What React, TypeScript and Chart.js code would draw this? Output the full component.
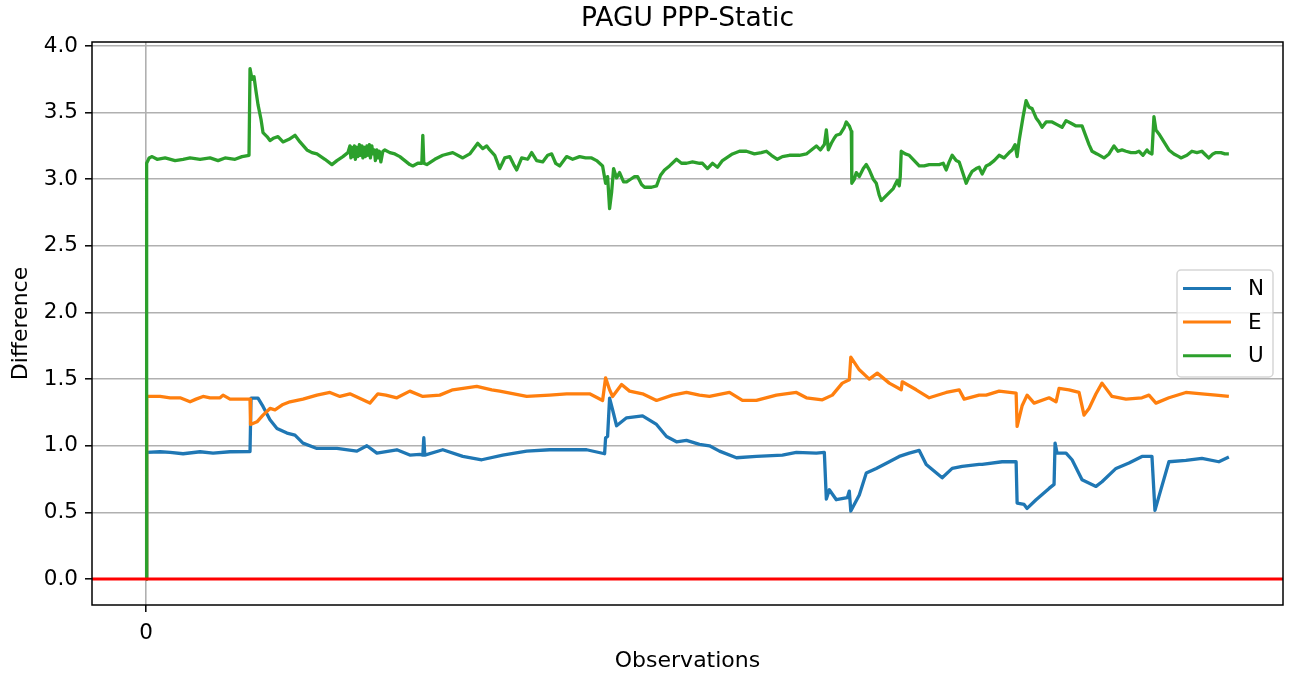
import React, { useEffect, useRef } from 'react';
import { Chart, registerables } from 'chart.js';

Chart.register(...registerables);

const TITLE = 'PAGU PPP-Static';
const X_LABEL = 'Observations';
const Y_LABEL = 'Difference';
const SERIES_LABELS = ['N', 'E', 'U'];
const X_TICKS = [0];
const Y_TICKS = [0, 0.5, 1, 1.5, 2, 2.5, 3, 3.5, 4];
const Y_MIN = -0.195;
const Y_MAX = 4.03;

const obsN = [0, 0.5, 14, 24, 37, 54, 67, 84, 104, 105, 112, 117, 124, 131, 141, 149, 157, 171, 191, 211, 221, 231, 251, 264, 274, 277, 278, 279, 297, 317, 336, 357, 381, 404, 441, 459, 460, 462, 464, 467, 471, 481, 497, 511, 521, 531, 541, 554, 564, 574, 591, 611, 637, 651, 671, 679, 681, 684, 691, 702, 704, 705.5, 714, 721, 731, 744, 754, 764, 774, 781, 797, 807, 817, 834, 837, 857, 871, 872, 879, 882, 891, 904, 909, 910, 912, 921, 927, 937, 951, 957, 971, 984, 997, 1007, 1010, 1014, 1024, 1041, 1057, 1074, 1084];
const diffN = [0, 0.95, 0.955, 0.95, 0.94, 0.955, 0.945, 0.955, 0.957, 1.357, 1.357, 1.295, 1.195, 1.13, 1.095, 1.08, 1.02, 0.98, 0.98, 0.96, 1.0, 0.945, 0.97, 0.93, 0.935, 0.93, 1.06, 0.93, 0.97, 0.92, 0.895, 0.93, 0.96, 0.97, 0.97, 0.94, 1.06, 1.07, 1.357, 1.27, 1.15, 1.21, 1.225, 1.16, 1.07, 1.03, 1.04, 1.01, 1.0, 0.96, 0.91, 0.92, 0.93, 0.95, 0.945, 0.95, 0.6, 0.67, 0.595, 0.61, 0.66, 0.51, 0.63, 0.795, 0.83, 0.88, 0.92, 0.945, 0.965, 0.86, 0.76, 0.83, 0.845, 0.86, 0.86, 0.88, 0.88, 0.57, 0.56, 0.53, 0.595, 0.68, 0.71, 1.02, 0.945, 0.945, 0.895, 0.745, 0.695, 0.73, 0.83, 0.87, 0.92, 0.92, 0.515, 0.62, 0.88, 0.89, 0.905, 0.88, 0.915];

const obsE = [0, 0.5, 4, 14, 24, 34, 44, 50, 57, 64, 74, 77, 84, 94, 104, 104.5, 111, 117, 124, 129, 137, 144, 157, 171, 184, 194, 204, 224, 232, 240, 251, 264, 277, 294, 307, 331, 346, 354, 381, 404, 421, 444, 457, 460, 464, 467, 476, 484, 497, 511, 527, 541, 554, 564, 584, 597, 611, 631, 651, 661, 677, 687, 697, 704, 705.5, 714, 724, 732, 744, 756, 757, 771, 784, 801, 814, 819, 834, 841, 854, 871, 872, 877, 882, 889, 904, 911, 914, 924, 934, 939, 944, 951, 957, 967, 981, 997, 1004, 1011, 1024, 1041, 1057, 1071, 1084];
const diffE = [0, 1.37, 1.37, 1.37, 1.36, 1.36, 1.33, 1.35, 1.37, 1.36, 1.36, 1.38, 1.35, 1.35, 1.35, 1.16, 1.18, 1.23, 1.28, 1.27, 1.31, 1.33, 1.35, 1.38, 1.4, 1.37, 1.39, 1.32, 1.39, 1.38, 1.36, 1.41, 1.37, 1.38, 1.42, 1.445, 1.42, 1.41, 1.37, 1.38, 1.39, 1.39, 1.34, 1.51, 1.42, 1.37, 1.46, 1.41, 1.39, 1.34, 1.38, 1.4, 1.38, 1.37, 1.4, 1.34, 1.34, 1.38, 1.4, 1.36, 1.345, 1.38, 1.47, 1.495, 1.665, 1.57, 1.5, 1.545, 1.47, 1.42, 1.48, 1.42, 1.36, 1.4, 1.42, 1.35, 1.38, 1.38, 1.41, 1.395, 1.145, 1.3, 1.38, 1.32, 1.36, 1.33, 1.43, 1.42, 1.4, 1.23, 1.28, 1.39, 1.47, 1.37, 1.35, 1.36, 1.38, 1.32, 1.36, 1.4, 1.39, 1.38, 1.37];

const obsU = [0, 0.5, 3, 6, 11, 19, 29, 37, 44, 54, 64, 72, 79, 89, 96, 103, 104, 106, 108, 110, 112, 115, 117, 121, 124, 128, 132, 137, 143, 149, 154, 161, 166, 171, 179, 186, 191, 197, 202, 204, 205, 206, 207, 208.5, 209.5, 211, 212, 213.5, 214.5, 216, 217, 218.5, 219.5, 221, 222, 223.5, 224.5, 226, 227, 228.5, 229.5, 231, 232, 233.5, 235, 237, 239, 244, 249, 254, 259, 264, 267, 272, 276, 277, 278, 281, 289, 297, 307, 317, 324, 332, 337, 341, 344, 349, 354, 359, 364, 368, 371, 376, 382, 386, 391, 397, 402, 406, 410, 414, 421, 427, 434, 440, 446, 451, 457, 460, 462, 464, 466, 468, 471, 474, 478, 481, 485, 489, 492, 496, 499, 506, 511, 515, 519, 524, 531, 536, 541, 547, 554, 557, 562, 567, 572, 577, 587, 594, 601, 609, 616, 621, 626, 632, 637, 644, 654, 661, 666, 671, 675, 679, 681, 683, 686, 689, 691, 695, 699, 701, 704, 706, 706.5, 709, 711, 714, 718, 721, 724, 728, 731, 734, 736, 740, 744, 748, 752, 754, 755, 756, 760, 764, 769, 774, 779, 784, 789, 794, 798, 801, 804, 807, 811, 814, 818, 821, 824, 827, 831, 834, 837, 841, 844, 849, 854, 859, 864, 867, 870, 872, 874, 878, 881, 884, 887, 891, 894, 897, 901, 907, 912, 917, 921, 926, 931, 937, 941, 944, 947, 952, 959, 964, 969, 973, 977, 981, 986, 991, 994, 998, 1002, 1004, 1007, 1009, 1011, 1014, 1019, 1024, 1029, 1034, 1036, 1042, 1047, 1052, 1057, 1061, 1064, 1068, 1071, 1076, 1080, 1084];
const diffU = [0, 3.12, 3.16, 3.17, 3.15, 3.16, 3.14, 3.15, 3.16, 3.15, 3.16, 3.14, 3.16, 3.15, 3.17, 3.18, 3.83, 3.75, 3.77, 3.66, 3.56, 3.45, 3.35, 3.32, 3.29, 3.31, 3.32, 3.28, 3.3, 3.33, 3.28, 3.22, 3.2, 3.19, 3.15, 3.11, 3.14, 3.17, 3.2, 3.25, 3.16, 3.24, 3.17, 3.25, 3.15, 3.24, 3.17, 3.26, 3.18, 3.25, 3.16, 3.24, 3.17, 3.25, 3.18, 3.26, 3.16, 3.25, 3.19, 3.22, 3.14, 3.22, 3.16, 3.21, 3.13, 3.21, 3.22, 3.2, 3.19, 3.17, 3.14, 3.11, 3.1, 3.12, 3.12, 3.33, 3.12, 3.11, 3.15, 3.18, 3.2, 3.16, 3.19, 3.27, 3.23, 3.25, 3.22, 3.18, 3.08, 3.16, 3.17, 3.11, 3.07, 3.16, 3.15, 3.2, 3.14, 3.13, 3.18, 3.19, 3.12, 3.1, 3.17, 3.15, 3.17, 3.16, 3.16, 3.14, 3.1, 2.97, 3.02, 2.78, 2.9, 3.08, 3.01, 3.05, 2.98, 2.98, 3.0, 3.02, 3.02, 2.96, 2.94, 2.94, 2.95, 3.03, 3.07, 3.1, 3.15, 3.12, 3.12, 3.13, 3.12, 3.12, 3.08, 3.12, 3.09, 3.14, 3.19, 3.21, 3.21, 3.19, 3.2, 3.21, 3.18, 3.15, 3.17, 3.18, 3.18, 3.19, 3.22, 3.25, 3.22, 3.26, 3.37, 3.22, 3.27, 3.31, 3.33, 3.34, 3.39, 3.43, 3.4, 3.36, 2.97, 3.0, 3.05, 3.02, 3.08, 3.11, 3.07, 3.0, 2.97, 2.88, 2.84, 2.87, 2.9, 2.93, 2.99, 2.95, 3.02, 3.21, 3.19, 3.18, 3.14, 3.1, 3.1, 3.11, 3.11, 3.11, 3.12, 3.07, 3.13, 3.18, 3.14, 3.13, 3.04, 2.97, 3.02, 3.06, 3.08, 3.09, 3.04, 3.1, 3.11, 3.14, 3.18, 3.16, 3.2, 3.22, 3.26, 3.17, 3.29, 3.47, 3.59, 3.54, 3.53, 3.46, 3.43, 3.39, 3.43, 3.43, 3.41, 3.39, 3.44, 3.42, 3.4, 3.4, 3.32, 3.26, 3.21, 3.19, 3.16, 3.19, 3.25, 3.21, 3.22, 3.21, 3.2, 3.2, 3.21, 3.18, 3.22, 3.2, 3.19, 3.47, 3.37, 3.34, 3.28, 3.22, 3.19, 3.17, 3.16, 3.18, 3.21, 3.2, 3.21, 3.18, 3.16, 3.19, 3.2, 3.2, 3.19, 3.19];

const COLORS = ['#1f77b4', '#ff7f0e', '#2ca02c'];
const FONT = 'DejaVu Sans';

const toPoints = (xs: number[], ys: number[]) => xs.map((x, i) => ({ x, y: ys[i] }));

const spinesPlugin = {
  id: 'spines',
  afterDatasetsDraw(chart: any) {
    const { ctx, chartArea: a } = chart;
    ctx.save();
    ctx.strokeStyle = '#000';
    ctx.lineWidth = 1.5;
    ctx.strokeRect(a.left, a.top, a.right - a.left, a.bottom - a.top);
    ctx.restore();
  },
};

const legendPlugin = {
  id: 'mplLegend',
  afterDraw(chart: any) {
    const { ctx, chartArea: a } = chart;
    const items = chart.data.datasets.filter((d: any) => d.label);
    const w = 96;
    const h = 107;
    const x = a.right - 10 - w;
    const y = (a.top + a.bottom) / 2 - h / 2;
    ctx.save();
    ctx.beginPath();
    ctx.roundRect(x, y, w, h, 4);
    ctx.fillStyle = 'rgba(255,255,255,0.8)';
    ctx.fill();
    ctx.strokeStyle = 'rgba(204,204,204,0.8)';
    ctx.lineWidth = 1.5;
    ctx.stroke();
    ctx.font = `21.5px "${FONT}"`;
    ctx.textBaseline = 'middle';
    ctx.textAlign = 'left';
    items.forEach((d: any, i: number) => {
      const ly = y + 18.5 + i * 33.6;
      ctx.beginPath();
      ctx.moveTo(x + 6, ly);
      ctx.lineTo(x + 54, ly);
      ctx.strokeStyle = d.borderColor;
      ctx.lineWidth = 3;
      ctx.stroke();
      ctx.fillStyle = '#000';
      ctx.fillText(d.label, x + 71, ly + 1);
    });
    ctx.restore();
  },
};

export default function App() {
  const ref = useRef<HTMLCanvasElement | null>(null);

  useEffect(() => {
    if (!ref.current) return;
    const xMaxData = Math.max(...obsN, ...obsE, ...obsU);
    const xMinData = 0;
    const span = xMaxData - xMinData;
    const xMin = xMinData - 0.05 * span;
    const xMax = xMaxData + 0.05 * span;

    const seriesObs = [obsN, obsE, obsU];
    const seriesDiff = [diffN, diffE, diffU];
    const datasets: any[] = SERIES_LABELS.map((label, i) => ({
      label,
      data: toPoints(seriesObs[i], seriesDiff[i]),
      borderColor: COLORS[i],
      backgroundColor: COLORS[i],
      borderWidth: 3.3,
      pointRadius: 0,
      fill: false,
      tension: 0,
      borderJoinStyle: 'round',
      order: 3 - i,
    }));
    datasets.push({
      label: '',
      data: [{ x: xMin, y: 0 }, { x: xMax, y: 0 }],
      borderColor: '#ff0000',
      borderWidth: 3,
      pointRadius: 0,
      fill: false,
      order: 0,
    });

    const chart = new Chart(ref.current, {
      type: 'line',
      data: { datasets },
      options: {
        animation: false,
        responsive: false,
        maintainAspectRatio: false,
        color: '#000',
        layout: { padding: { left: 0, right: 8, top: 0, bottom: 0 } },
        plugins: {
          legend: { display: false },
          tooltip: { enabled: false },
          title: {
            display: true,
            text: TITLE,
            fullSize: false,
            color: '#000',
            font: { family: FONT, size: 26.5, weight: 'normal', lineHeight: 1.2 },
            padding: { top: 3, bottom: 7.2 },
          },
        },
        scales: {
          x: {
            type: 'linear',
            min: xMin,
            max: xMax,
            afterBuildTicks: (axis: any) => {
              axis.ticks = X_TICKS.map((v) => ({ value: v }));
            },
            afterFit: (scale: any) => {
              scale.height = 72;
            },
            ticks: {
              color: '#000',
              font: { family: FONT, size: 21.5 },
              padding: 9,
              maxRotation: 0,
              callback: (v: any) => String(v),
            },
            grid: {
              color: '#b0b0b0',
              lineWidth: 1.6,
              tickColor: '#000',
              tickLength: 7,
              tickWidth: 1.5,
            },
            border: { display: false },
            title: {
              display: true,
              text: X_LABEL,
              color: '#000',
              font: { family: FONT, size: 22, lineHeight: 1.2 },
              padding: { top: 0, bottom: 3 },
            },
          },
          y: {
            type: 'linear',
            min: Y_MIN,
            max: Y_MAX,
            afterBuildTicks: (axis: any) => {
              axis.ticks = Y_TICKS.map((v) => ({ value: v }));
            },
            afterFit: (scale: any) => {
              scale.width = 92;
            },
            ticks: {
              color: '#000',
              font: { family: FONT, size: 21.5 },
              padding: 7,
              callback: (v: any) => Number(v).toFixed(1),
            },
            grid: {
              color: '#b0b0b0',
              lineWidth: 1.6,
              tickColor: '#000',
              tickLength: 7,
              tickWidth: 1.5,
            },
            border: { display: false },
            title: {
              display: true,
              text: Y_LABEL,
              color: '#000',
              font: { family: FONT, size: 22, lineHeight: 1.2 },
              padding: { top: 8, bottom: 0 },
            },
          },
        },
      },
      plugins: [spinesPlugin, legendPlugin],
    } as any);

    return () => chart.destroy();
  }, []);

  return (
    <div style={{ position: 'fixed', left: 0, top: 0, width: 1291, height: 677, background: '#fff' }}>
      <canvas ref={ref} width={1291} height={677} style={{ width: 1291, height: 677, display: 'block' }} />
    </div>
  );
}
